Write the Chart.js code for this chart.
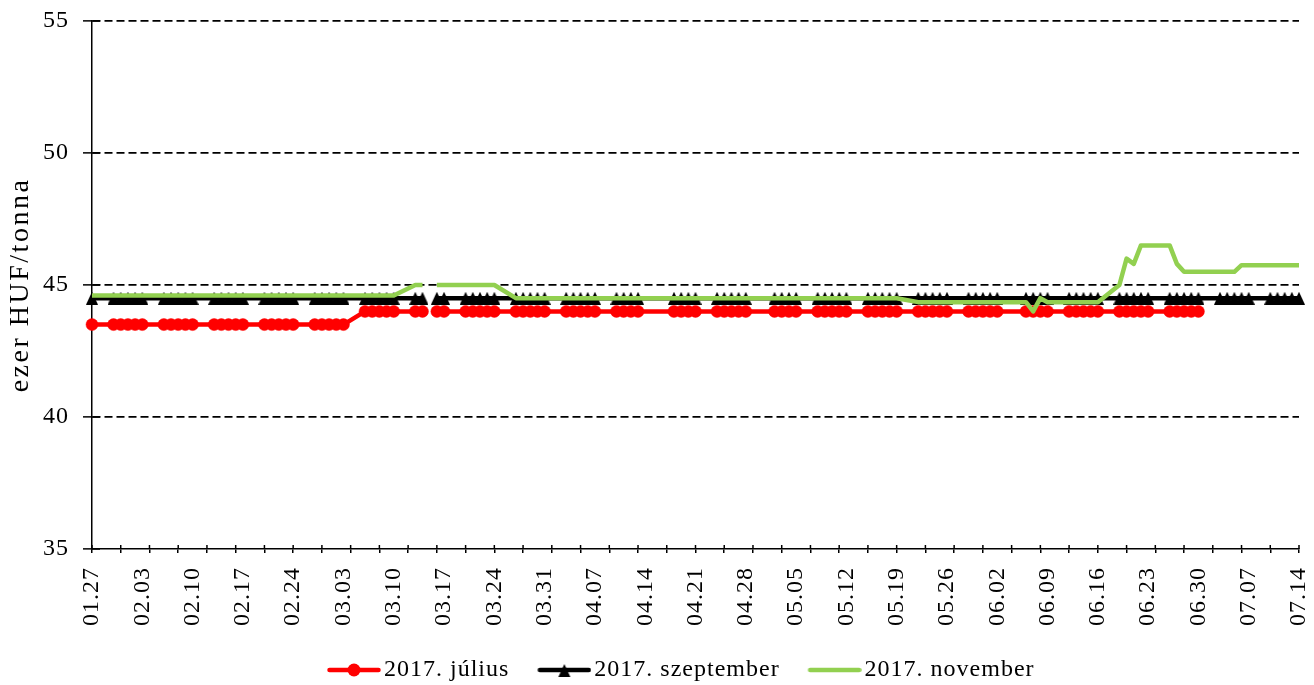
<!DOCTYPE html>
<html>
<head>
<meta charset="utf-8">
<script src="https://cdn.jsdelivr.net/npm/chart.js@4.4.0/dist/chart.umd.min.js"></script>
<style>
html,body{margin:0;padding:0;background:#ffffff;}
canvas{display:block;}
</style>
</head>
<body>
<canvas id="c" width="1314" height="685"></canvas>
<script>
// ---------- DATA ----------
// Trading days (one row per week)
const dates = [
  '01.27',
  '01.30','01.31','02.01','02.02','02.03',
  '02.06','02.07','02.08','02.09','02.10',
  '02.13','02.14','02.15','02.16','02.17',
  '02.20','02.21','02.22','02.23','02.24',
  '02.27','02.28','03.01','03.02','03.03',
  '03.06','03.07','03.08','03.09','03.10',
  '03.13','03.14','03.15','03.16','03.17',
  '03.20','03.21','03.22','03.23','03.24',
  '03.27','03.28','03.29','03.30','03.31',
  '04.03','04.04','04.05','04.06','04.07',
  '04.10','04.11','04.12','04.13',
  '04.18','04.19','04.20','04.21',
  '04.24','04.25','04.26','04.27','04.28',
  '05.02','05.03','05.04','05.05',
  '05.08','05.09','05.10','05.11','05.12',
  '05.15','05.16','05.17','05.18','05.19',
  '05.22','05.23','05.24','05.25','05.26',
  '05.29','05.30','05.31','06.01','06.02',
  '06.06','06.07','06.08','06.09',
  '06.12','06.13','06.14','06.15','06.16',
  '06.19','06.20','06.21','06.22','06.23',
  '06.26','06.27','06.28','06.29','06.30',
  '07.03','07.04','07.05','07.06','07.07',
  '07.10','07.11','07.12','07.13','07.14'
];

const julius = [
  43.5,
  43.5,43.5,43.5,43.5,43.5,
  43.5,43.5,43.5,43.5,43.5,
  43.5,43.5,43.5,43.5,43.5,
  43.5,43.5,43.5,43.5,43.5,
  43.5,43.5,43.5,43.5,43.5,
  44,44,44,44,44,
  44,44,null,44,44,
  44,44,44,44,44,
  44,44,44,44,44,
  44,44,44,44,44,
  44,44,44,44,
  44,44,44,44,
  44,44,44,44,44,
  44,44,44,44,
  44,44,44,44,44,
  44,44,44,44,44,
  44,44,44,44,44,
  44,44,44,44,44,
  44,44,44,44,
  44,44,44,44,44,
  44,44,44,44,44,
  44,44,44,44,44,
  null,null,null,null,null,
  null,null,null,null,null
];

const szeptember = [
  44.5,
  44.5,44.5,44.5,44.5,44.5,
  44.5,44.5,44.5,44.5,44.5,
  44.5,44.5,44.5,44.5,44.5,
  44.5,44.5,44.5,44.5,44.5,
  44.5,44.5,44.5,44.5,44.5,
  44.5,44.5,44.5,44.5,44.5,
  44.5,44.5,null,44.5,44.5,
  44.5,44.5,44.5,44.5,44.5,
  44.5,44.5,44.5,44.5,44.5,
  44.5,44.5,44.5,44.5,44.5,
  44.5,44.5,44.5,44.5,
  44.5,44.5,44.5,44.5,
  44.5,44.5,44.5,44.5,44.5,
  44.5,44.5,44.5,44.5,
  44.5,44.5,44.5,44.5,44.5,
  44.5,44.5,44.5,44.5,44.5,
  44.5,44.5,44.5,44.5,44.5,
  44.5,44.5,44.5,44.5,44.5,
  44.5,44.5,44.5,44.5,
  44.5,44.5,44.5,44.5,44.5,
  44.5,44.5,44.5,44.5,44.5,
  44.5,44.5,44.5,44.5,44.5,
  44.5,44.5,44.5,44.5,44.5,
  44.5,44.5,44.5,44.5,44.5
];

const november = [
  44.6,
  44.6,44.6,44.6,44.6,44.6,
  44.6,44.6,44.6,44.6,44.6,
  44.6,44.6,44.6,44.6,44.6,
  44.6,44.6,44.6,44.6,44.6,
  44.6,44.6,44.6,44.6,44.6,
  44.6,44.6,44.6,44.6,44.6,
  45,45,null,45,45,
  45,45,45,45,45,
  44.5,44.5,44.5,44.5,44.5,
  44.5,44.5,44.5,44.5,44.5,
  44.5,44.5,44.5,44.5,
  44.5,44.5,44.5,44.5,
  44.5,44.5,44.5,44.5,44.5,
  44.5,44.5,44.5,44.5,
  44.5,44.5,44.5,44.5,44.5,
  44.5,44.5,44.5,44.5,44.5,
  44.35,44.35,44.35,44.35,44.35,
  44.35,44.35,44.35,44.35,44.35,
  44.35,44.0,44.5,44.35,
  44.35,44.35,44.35,44.35,44.35,
  45.0,46.0,45.8,46.5,46.5,
  46.5,45.8,45.5,45.5,45.5,
  45.5,45.5,45.5,45.75,45.75,
  45.75,45.75,45.75,45.75,45.75
];

const seriesNames = ['2017. július', '2017. szeptember', '2017. november'];
const tickLabels = ['01.27','02.03','02.10','02.17','02.24','03.03','03.10','03.17','03.24','03.31',
  '04.07','04.14','04.21','04.28','05.05','05.12','05.19','05.26','06.02','06.09','06.16',
  '06.23','06.30','07.07','07.14'];
const yMin = 35, yMax = 55, yStep = 5;
const yTitle = 'ezer HUF/tonna';

// ---------- HELPERS ----------
const FONT = "'Liberation Serif', 'Times New Roman', serif";
const RED = '#FF0000', BLACK = '#000000', GREEN = '#92D050';
const DAY0 = Date.UTC(2017, 0, 27);
function dayIndex(s) {
  const [m, d] = s.split('.').map(Number);
  return Math.round((Date.UTC(2017, m - 1, d) - DAY0) / 86400000);
}
const labelDays = tickLabels.map(dayIndex);
const xMax = labelDays[labelDays.length - 1];
const toPoints = vals => dates.map((d, i) => ({ x: dayIndex(d), y: vals[i] }));

// triangle marker (Excel-like: centred in its bounding box)
function triangleImage(w, h, color) {
  const c = document.createElement('canvas');
  c.width = w; c.height = h;
  const g = c.getContext('2d');
  g.fillStyle = color;
  g.beginPath(); g.moveTo(w / 2, 0); g.lineTo(w, h); g.lineTo(0, h); g.closePath(); g.fill();
  return c;
}
const triangleMarker = triangleImage(12, 13, BLACK);

// legend symbol: 54px line sample placed at the right of an 81px-wide image
const ICON_W = 81, ICON_H = 16, SAMPLE_W = 54;
function legendIcon(color, marker) {
  const c = document.createElement('canvas');
  c.width = ICON_W; c.height = ICON_H;
  const g = c.getContext('2d');
  const x0 = ICON_W - SAMPLE_W, cx = x0 + SAMPLE_W / 2, cy = ICON_H / 2;
  g.strokeStyle = color; g.fillStyle = color; g.lineWidth = 4.5; g.lineCap = 'round';
  g.beginPath(); g.moveTo(x0 + 2.5, cy); g.lineTo(ICON_W - 2.5, cy); g.stroke();
  if (marker === 'circle') {
    g.beginPath(); g.arc(cx, cy, 6.5, 0, Math.PI * 2); g.fill();
  } else if (marker === 'triangle') {
    g.drawImage(triangleMarker, Math.round(cx - 6), Math.round(cy - 6.5));
  }
  return c;
}
const icons = [legendIcon(RED, 'circle'), legendIcon(BLACK, 'triangle'), legendIcon(GREEN, null)];

const LEGEND_FIRST_X = 309;   // legend item origin (sample is drawn 18px to its right)
const LEGEND_TOP = 648;
const LEGEND_PAD = 10;
const LEGEND_BOX_W = 63;

const tweak = {
  id: 'tweak',
  beforeUpdate(c) { c.ctx.letterSpacing = '1px'; },
  beforeDraw(c) {
    c.ctx.letterSpacing = '1px';
    const s = c.scales.y;
    if (s && !s.__wrapped) {
      const orig = s.drawTitle;
      s.drawTitle = function () {
        const ctx = this.ctx; const prev = ctx.letterSpacing;
        ctx.letterSpacing = '2.5px';
        orig.apply(this, arguments);
        ctx.letterSpacing = prev;
      };
      s.__wrapped = true;
    }
  },
  afterLayout(c) {
    const L = c.legend;
    if (!L || !L.lineWidths) return;
    const p = L.options.labels.padding;
    const startX = (L.left + p + L.right - L.lineWidths[0]) / 2;
    const dx = LEGEND_FIRST_X - startX;
    L.left += dx; L.right += dx;
    const dy = LEGEND_TOP - L.top;
    L.top += dy; L.bottom += dy;
  },
  beforeDatasetsDraw(c) {
    const ctx = c.ctx, a = c.chartArea, xs = c.scales.x, ys = c.scales.y;
    ctx.save();
    ctx.strokeStyle = '#000'; ctx.lineWidth = 1.5;
    ys.ticks.forEach(t => {
      const py = ys.getPixelForValue(t.value);
      ctx.beginPath(); ctx.moveTo(a.left, py); ctx.lineTo(a.left + 8, py); ctx.stroke();
    });
    xs.ticks.forEach(t => {
      if (t.value % 4 !== 0) return;
      const px = xs.getPixelForValue(t.value);
      ctx.beginPath(); ctx.moveTo(px, a.bottom); ctx.lineTo(px, a.bottom - 4); ctx.stroke();
    });
    ctx.restore();
  }
};

Chart.defaults.font.family = FONT;
Chart.defaults.color = '#000';

new Chart(document.getElementById('c'), {
  type: 'line',
  data: {
    datasets: [
      {
        label: seriesNames[0], data: toPoints(julius), order: 3, clip: 12,
        borderColor: RED, backgroundColor: RED, borderWidth: 4.5,
        pointStyle: 'circle', pointRadius: 6, pointBorderWidth: 0.5,
        pointBackgroundColor: RED, pointBorderColor: RED
      },
      {
        label: seriesNames[1], data: toPoints(szeptember), order: 2, clip: 12,
        borderColor: BLACK, backgroundColor: BLACK, borderWidth: 4.5,
        pointStyle: triangleMarker, pointRadius: 6, pointBorderWidth: 0,
        pointBackgroundColor: BLACK, pointBorderColor: BLACK
      },
      {
        label: seriesNames[2], data: toPoints(november), order: 1, clip: 12,
        borderColor: GREEN, backgroundColor: GREEN, borderWidth: 4.5,
        pointRadius: 0
      }
    ]
  },
  options: {
    responsive: false,
    animation: false,
    spanGaps: false,
    elements: { line: { tension: 0, borderCapStyle: 'butt', borderJoinStyle: 'round' } },
    layout: { padding: { top: 21, right: 15, bottom: 0, left: 0 } },
    plugins: {
      tooltip: { enabled: false },
      legend: {
        position: 'bottom',
        labels: {
          usePointStyle: true,
          pointStyleWidth: LEGEND_BOX_W,
          padding: LEGEND_PAD,
          color: '#000',
          font: { family: FONT, size: 24 },
          generateLabels(chart) {
            const items = Chart.defaults.plugins.legend.labels.generateLabels(chart);
            items.forEach(it => { it.pointStyle = icons[it.datasetIndex]; });
            return items;
          },
          sort: (a, b) => a.datasetIndex - b.datasetIndex
        }
      }
    },
    scales: {
      x: {
        type: 'linear',
        min: 0, max: xMax,
        afterBuildTicks(scale) {
          const vals = new Set();
          for (let d = 0; d <= xMax; d += 4) vals.add(d);
          labelDays.forEach(d => vals.add(d));
          scale.ticks = [...vals].sort((p, q) => p - q).map(v => ({ value: v }));
        },
        afterFit(scale) { scale.height = 92; scale.paddingLeft = 0; scale.paddingRight = 0; },
        grid: {
          drawOnChartArea: false, drawTicks: true, tickLength: 4, lineWidth: 1.5,
          tickColor: ctx => (ctx.tick && ctx.tick.value % 4 === 0) ? '#000' : 'rgba(0,0,0,0)'
        },
        border: { display: true, color: '#000', width: 1.5 },
        ticks: {
          autoSkip: false, minRotation: 90, maxRotation: 90, padding: 14,
          color: '#000', font: { family: FONT, size: 24 },
          callback(v) { const i = labelDays.indexOf(v); return i >= 0 ? tickLabels[i] : ''; }
        }
      },
      y: {
        min: yMin, max: yMax,
        afterFit(scale) { scale.width = 92; scale.paddingTop = 0; scale.paddingBottom = 0; },
        grid: {
          color: ctx => (ctx.tick && ctx.tick.value === yMin) ? 'rgba(0,0,0,0)' : '#000',
          lineWidth: 1.75, tickLength: 9, tickColor: '#000', tickWidth: 1.5
        },
        border: { display: true, color: '#000', width: 1.5, dash: [8, 4] },
        ticks: { stepSize: yStep, padding: 14, color: '#000', font: { family: FONT, size: 24 } },
        title: {
          display: true, text: yTitle, color: '#000',
          font: { family: FONT, size: 28 }, padding: { top: 4, bottom: 0 }
        }
      }
    }
  },
  plugins: [tweak]
});
</script>
</body>
</html>
